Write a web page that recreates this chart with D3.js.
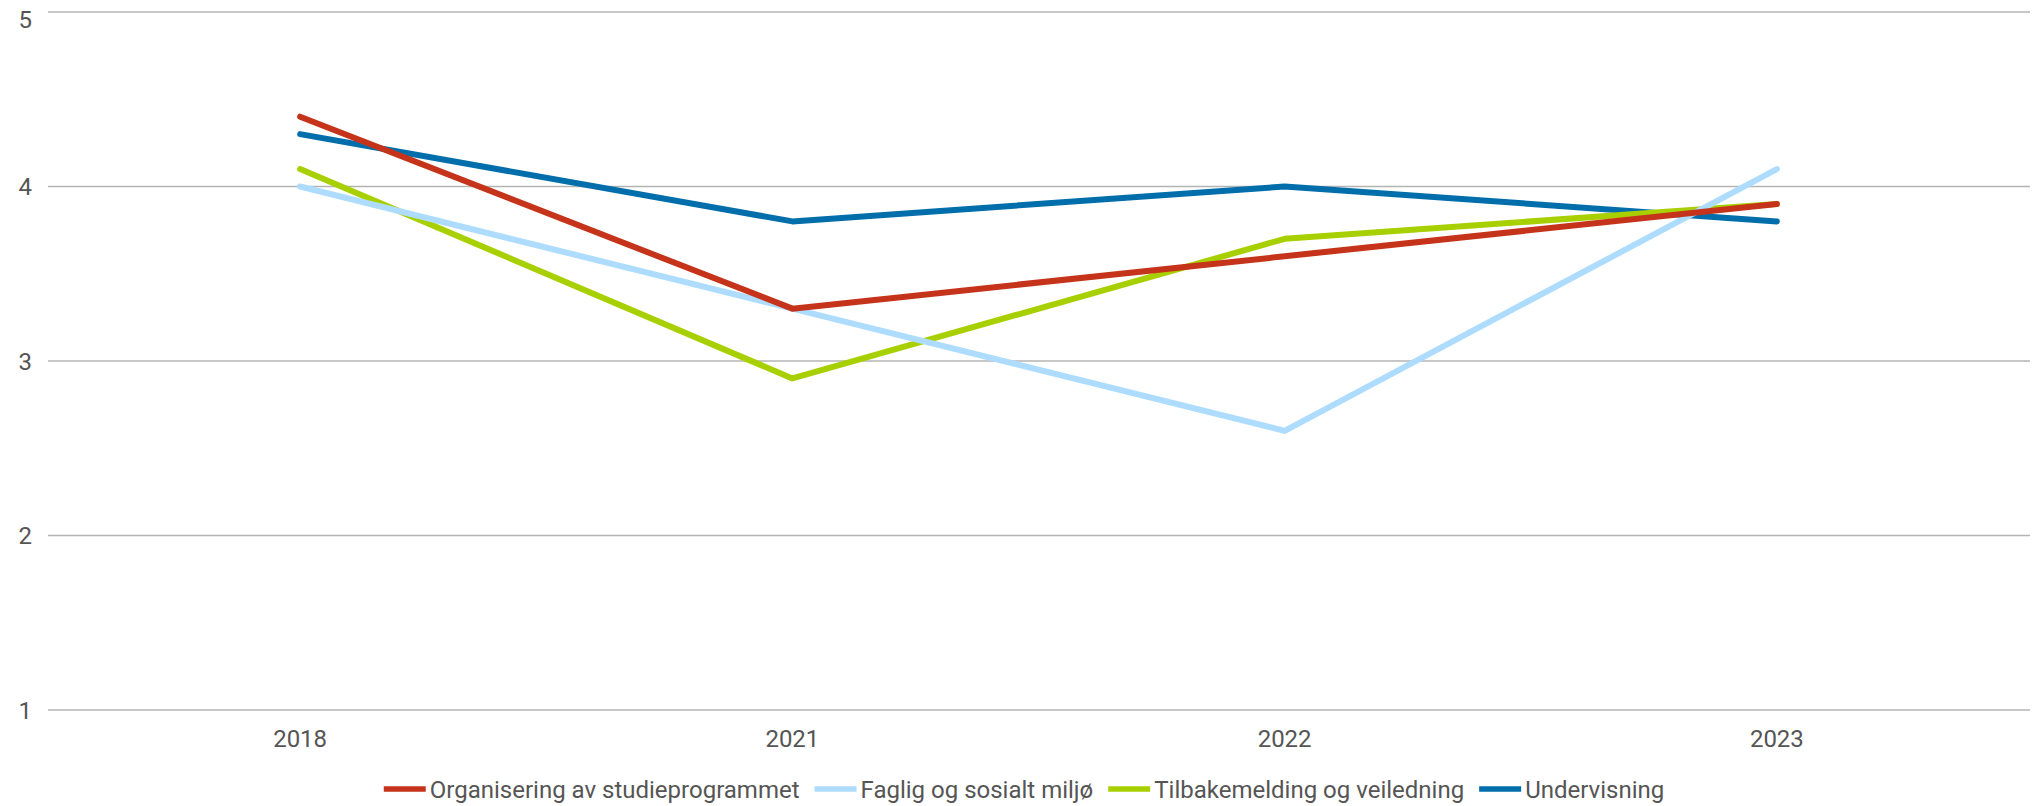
<!DOCTYPE html>
<html>
<head>
<meta charset="utf-8">
<script src="https://cdn.jsdelivr.net/npm/d3@7"></script>
<style>
  body { margin: 0; background: #fff; }
  svg text { font-family: Roboto, "Noto Sans", sans-serif; fill: #555; }
</style>
</head>
<body>
<svg id="chart" width="2038" height="806"></svg>
<script>
// values
const years = ['2018', '2021', '2022', '2023'];
const yTicks = [1, 2, 3, 4, 5];

const organisering = [4.4, 3.3, 3.6, 3.9];
const fagligMiljo = [4.0, 3.3, 2.6, 4.1];
const tilbakemelding = [4.1, 2.9, 3.7, 3.9];
const undervisning = [4.3, 3.8, 4.0, 3.8];

const seriesNames = [
  'Organisering av studieprogrammet',
  'Faglig og sosialt miljø',
  'Tilbakemelding og veiledning',
  'Undervisning'
];
const seriesValues = [organisering, fagligMiljo, tilbakemelding, undervisning];
const colors = ['#c5341a', '#addcfe', '#a8d000', '#006eab'];

const width = 2038;
const height = 806;
const grid = { left: 48, right: 2030 };

const svg = d3.select('#chart');

const x = d3.scalePoint()
  .domain(years)
  .range([54, 2023])
  .padding(0.5);

const y = d3.scaleLinear()
  .domain([1, 5])
  .range([710, 12]);

// gridlines
svg.append('g')
  .selectAll('line')
  .data(yTicks)
  .join('line')
  .attr('x1', grid.left)
  .attr('x2', grid.right)
  .attr('y1', (d) => y(d))
  .attr('y2', (d) => y(d))
  .attr('stroke', '#b4b4b4')
  .attr('stroke-width', 1.5);

// y labels; the top one is pushed down to stay inside the frame
svg.append('g')
  .selectAll('text')
  .data(yTicks)
  .join('text')
  .attr('x', 32)
  .attr('y', (d) => Math.max(y(d) + 8.5, 28))
  .attr('text-anchor', 'end')
  .style('font-size', '24px')
  .text((d) => d);

// x labels
svg.append('g')
  .selectAll('text')
  .data(years)
  .join('text')
  .attr('x', (d) => x(d))
  .attr('y', 746.5)
  .attr('text-anchor', 'middle')
  .style('font-size', '24px')
  .text((d) => d);

// lines, last legend entry drawn first so the first sits on top
const line = d3.line()
  .x((d, i) => x(years[i]))
  .y((d) => y(d));

const order = d3.range(seriesValues.length).reverse();
svg.append('g')
  .selectAll('path')
  .data(order)
  .join('path')
  .attr('d', (i) => line(seriesValues[i]))
  .attr('fill', 'none')
  .attr('stroke', (i) => colors[i])
  .attr('stroke-width', 6)
  .attr('stroke-linecap', 'round')
  .attr('stroke-linejoin', 'round');

// legend, laid out from measured text widths and centred
const legend = svg.append('g');
const swatch = 42;
const gapText = 4;
const gapItem = 15;

const items = legend.selectAll('g')
  .data(seriesNames)
  .join('g');

items.append('line')
  .attr('x1', 0)
  .attr('x2', swatch)
  .attr('y1', 0)
  .attr('y2', 0)
  .attr('stroke', (d, i) => colors[i])
  .attr('stroke-width', 5.5);

items.append('text')
  .attr('x', swatch + gapText)
  .attr('y', 8.5)
  .style('font-size', '24px')
  .text((d) => d);

let offset = 0;
items.each(function () {
  const w = d3.select(this).select('text').node().getComputedTextLength();
  d3.select(this).attr('transform', `translate(${offset},0)`);
  offset += swatch + gapText + w + gapItem;
});
const total = offset - gapItem;
legend.attr('transform', `translate(${(1024 - total / 2)},789)`);
</script>
</body>
</html>
